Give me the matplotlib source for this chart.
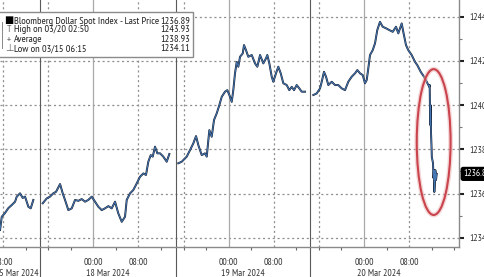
import numpy as np
import matplotlib
matplotlib.use("Agg")
import matplotlib.pyplot as plt
from matplotlib.patches import Ellipse, Rectangle

plt.rcParams['font.family'] = ['PT Sans Narrow', 'DejaVu Sans']
plt.rcParams['lines.scale_dashes'] = False

# x: trading hours since 18 Mar 2024 00:00 (weekend removed, like the Bloomberg axis)
seg1_h = [-16.54, -16.24, -15.66, -15.07, -14.47, -13.88, -13.58, -13.0, -12.52, -12.11,
          -11.52, -11.10, -10.64]
seg1_v = [1234.35, 1234.95, 1235.12, 1235.34, 1235.48, 1235.63, 1235.86, 1236.01, 1235.80, 1235.86,
          1235.40, 1235.33, 1235.71]

seg2_h = [-8.97, -8.26, -7.68, -7.09, -6.61, -5.90, -5.43, -5.02, -4.43, -3.83, -3.24, -2.66,
          -2.06, -1.47, -0.89, -0.28, 0.30, 0.89, 1.49, 2.07, 2.66, 3.26, 3.85, 4.43, 5.04,
          5.62, 5.92, 6.51, 7.09, 7.70, 8.28, 8.87, 9.34, 9.75, 10.18, 10.53, 10.94, 11.35,
          11.83, 12.41, 13.01, 13.48]
seg2_v = [1235.56, 1235.78, 1235.86, 1236.01, 1236.08, 1236.43, 1236.01, 1235.71, 1235.25, 1235.33,
          1235.71, 1235.67, 1235.75, 1235.63, 1235.71, 1235.86, 1235.63, 1235.40, 1235.25, 1235.33,
          1235.43, 1235.33, 1235.63, 1235.10, 1234.72, 1234.95, 1235.71, 1236.01, 1236.16, 1236.46,
          1236.76, 1236.91, 1236.84, 1237.44, 1237.74, 1237.67, 1238.12, 1237.82, 1237.82, 1237.67,
          1237.44, 1237.79]

seg3_h = [15.07, 15.67, 16.56, 17.15, 17.73, 18.21, 18.62, 19.22, 19.80, 20.11, 20.57, 20.99,
          21.40, 21.88, 22.34, 22.77, 23.35, 23.76, 24.24, 24.54, 24.82, 25.12, 25.43, 25.71,
          26.01, 26.49, 26.72, 27.07, 27.48, 28.09, 28.67, 29.08, 29.56, 30.14, 30.62, 30.85,
          31.21, 31.63, 31.91, 32.39, 32.80, 33.23, 33.69, 34.29, 34.75, 35.18, 35.59, 36.06,
          36.52, 36.95, 37.53]
seg3_v = [1237.37, 1237.44, 1237.67, 1237.97, 1238.27, 1238.60, 1238.19, 1237.74, 1237.82, 1237.67,
          1238.87, 1238.57, 1239.33, 1239.63, 1240.00, 1240.38, 1240.61, 1240.68, 1240.38, 1240.15,
          1240.68, 1241.44, 1241.96, 1241.74, 1242.19, 1242.34, 1242.72, 1242.49, 1242.19, 1242.27,
          1241.89, 1241.74, 1242.27, 1241.89, 1242.12, 1242.27, 1241.89, 1241.29, 1241.06, 1241.44,
          1241.74, 1241.44, 1240.99, 1240.91, 1240.68, 1240.83, 1240.68, 1240.91, 1240.76, 1240.61,
          1240.61]

seg4_h = [39.01, 39.61, 40.20, 40.50, 40.90, 41.26, 41.67, 42.27, 42.86, 43.44, 44.04, 44.63,
          45.21, 45.82, 46.40, 46.81, 47.29, 47.77, 48.17, 48.48, 48.76, 49.06, 49.54, 49.95,
          50.35, 50.83, 51.31, 51.90, 52.48, 53.09, 53.67, 54.08, 54.68, 54.96, 55.44, 55.85,
          56.45, 57.04, 57.45, 58.05, 58.63, 59.11, 59.57, 59.64, 59.70, 59.75, 59.80, 59.88,
          59.96, 60.02, 60.23, 60.32, 60.41, 60.46, 60.55, 60.64, 60.76, 60.89]
seg4_v = [1240.46, 1240.53, 1240.76, 1241.06, 1241.51, 1241.29, 1240.91, 1241.06, 1240.91, 1240.91,
          1240.76, 1240.68, 1241.06, 1241.29, 1241.44, 1241.59, 1241.44, 1241.36, 1240.99, 1241.14,
          1241.67, 1242.27, 1242.49, 1242.80, 1243.40, 1243.77, 1243.55, 1243.48, 1243.40, 1243.32,
          1243.55, 1243.25, 1243.70, 1243.32, 1242.72, 1242.49, 1242.27, 1241.96, 1241.81, 1241.51,
          1241.29, 1241.06, 1240.83, 1240.91, 1239.78, 1239.10, 1240.00, 1238.74, 1238.19, 1237.65,
          1237.38, 1236.70, 1237.06, 1236.07, 1236.48, 1237.06, 1236.61, 1236.89]

segments = [(seg1_h, seg1_v), (seg2_h, seg2_v), (seg3_h, seg3_v), (seg4_h, seg4_v)]

legend_labels = ['Bloomberg Dollar Spot Index - Last Price', 'High on 03/20 02:50',
                 'Average', 'Low on 03/15 06:15']
legend_values = ['1236.89', '1243.93', '1238.93', '1234.11']
last_price = 1236.89

y_ticks = [1234, 1236, 1238, 1240, 1242, 1244]
time_ticks = [-16, 0, 8, 24, 32, 48, 56]
time_labels = ['08:00', '00:00', '08:00', '00:00', '08:00', '00:00', '08:00']
date_pos = [-13.5, 2.6, 26.6, 50.6]
date_labels = ['15 Mar 2024', '18 Mar 2024', '19 Mar 2024', '20 Mar 2024']
session_breaks = [-9.45, 14.6, 38.5]

fig = plt.figure(figsize=(4.85, 2.77), dpi=100)
ax = fig.add_axes([0, 30 / 277, 459 / 485, 247 / 277])
ax.set_xlim(-16.55, 64.84)
ax.set_ylim(1233.58, 1244.76)

# grid: dotted at 08:00/16:00 and each 2 points, solid at midnight
grid_kw = dict(color='#8f8f8f', lw=0.9, ls=(0, (1.5, 2.0)), zorder=1)
for y in y_ticks:
    ax.axhline(y, **grid_kw)
for x in [-16, -8, 8, 16, 32, 40, 56]:
    ax.axvline(x, **grid_kw)
for x in [0, 24, 48]:
    ax.axvline(x, color='#a8a8a8', lw=0.9, zorder=1)
for x in session_breaks:
    ax.axvline(x, ymin=-0.15, ymax=1, color='#5a5a5a', lw=0.8, zorder=1, clip_on=False)

# price line
for h, v in segments:
    ax.plot(h, v, color='#141c2c', lw=1.4, zorder=3)
    ax.plot(h, v, color='#4f88cc', lw=0.7, zorder=4, alpha=0.85)

# red circle round the drop
ax.add_patch(Ellipse((60.35, 1238.33), 6.0, 6.6, fill=False, ec='#eab0b3', lw=3.5, alpha=0.5, zorder=5))
ax.add_patch(Ellipse((60.35, 1238.33), 6.0, 6.6, fill=False, ec='#c9444c', lw=1.5, zorder=6))

# axes styling
for s in ['top', 'left']:
    ax.spines[s].set_visible(False)
for s in ['bottom', 'right']:
    ax.spines[s].set_color('#8a8a8a')
    ax.spines[s].set_linewidth(1.0)

ax.yaxis.tick_right()
ax.set_yticks(y_ticks)
ax.set_yticklabels([f'{t:.1f}' for t in y_ticks])
ax.set_yticks([1235, 1237, 1239, 1241, 1243], minor=True)
ax.tick_params(axis='y', which='major', direction='out', length=3.5, width=1.5,
               color='#222222', labelsize=6.8, pad=4, labelcolor='#333333')
ax.tick_params(axis='y', which='minor', direction='out', length=2, width=0.8, color='#777777')

ax.set_xticks(time_ticks)
ax.set_xticklabels(time_labels)
ax.set_xticks(np.arange(-16, 65, 4), minor=True)
ax.tick_params(axis='x', which='major', direction='out', length=0, labelsize=7,
               pad=8, labelcolor='#333333')
ax.tick_params(axis='x', which='minor', direction='out', length=2.5, width=0.8, color='#666666')

for p, lab in zip(date_pos, date_labels):
    ax.text(p, -0.088, lab, transform=ax.get_xaxis_transform(), ha='center', va='top',
            fontsize=7, color='#333333', clip_on=False)

# last price tag
ax.annotate(f'{last_price:.2f}', xy=(1, last_price), xycoords=('axes fraction', 'data'),
            xytext=(3, 0), textcoords='offset points', va='center', ha='left',
            fontsize=6.8, color='white',
            bbox=dict(boxstyle='round,pad=0.2', fc='black', ec='black'))

# legend box (Bloomberg style)
fig.patches.append(Rectangle((-2 / 485, 1 - 57 / 277), 195 / 485, 45 / 277,
                             transform=fig.transFigure, fc='white', ec='#8a8a8a', lw=1.0, zorder=10))
rows_y = [21, 30, 39.3, 48.7]
markers = ['\u25A0', 'T', '+', '\u22A5']
for y, m, lab, val in zip(rows_y, markers, legend_labels, legend_values):
    fy = 1 - y / 277
    fig.text(9 / 485, fy, m, ha='center', va='center', fontsize=7,
             color='black' if m == '\u25A0' else '#666666', zorder=11)
    fig.text(14 / 485, fy, lab, ha='left', va='center', fontsize=7.5, color='#222222', zorder=11)
    fig.text(190 / 485, fy, val, ha='right', va='center', fontsize=7.5, color='#222222', zorder=11)
fig.lines.append(plt.Line2D([2.5 / 485, 2.5 / 485], [1 - 22 / 277, 1 - 48 / 277],
                            transform=fig.transFigure, color='#888888', lw=0.7, zorder=11))

fig.savefig('out.png', dpi=100)
